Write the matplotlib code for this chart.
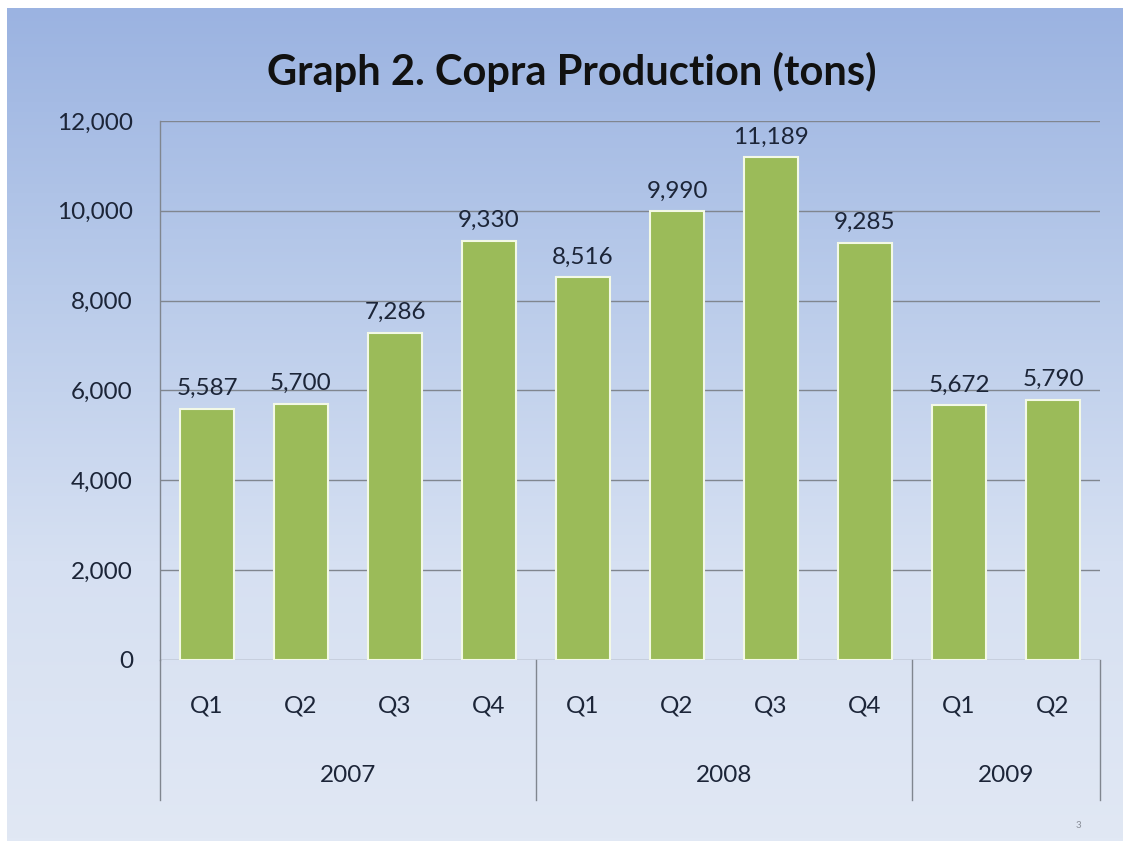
import numpy as np
import matplotlib
matplotlib.use("Agg")
import matplotlib.pyplot as plt
from matplotlib.colors import LinearSegmentedColormap
import matplotlib.transforms as mtransforms

quarters = ["Q1", "Q2", "Q3", "Q4", "Q1", "Q2", "Q3", "Q4", "Q1", "Q2"]
years = ["2007", "2008", "2009"]
quarters_per_year = [4, 4, 2]
production = [5587, 5700, 7286, 9330, 8516, 9990, 11189, 9285, 5672, 5790]
yticks = [0, 2000, 4000, 6000, 8000, 10000, 12000]

W, H = 1123, 841
fig = plt.figure(figsize=(W / 100, H / 100), dpi=100)
fig.patch.set_facecolor("white")

FONT = "Lato"
TEXT = "#1c2538"
FS = 17.5

# slide background: vertical blue gradient
bg = fig.add_axes([7 / W, 0, 1 - 7 / W, 1 - 8 / H])
bg.set_axis_off()
cmap = LinearSegmentedColormap.from_list(
    "slide", ["#9bb3e1", "#b9cbea", "#d6e0f2", "#e1e8f4"])
grad = np.linspace(0, 1, 256).reshape(-1, 1)
bg.imshow(grad, aspect="auto", cmap=cmap, extent=[0, 1, 0, 1], origin="upper")
bg.set_zorder(0)

# chart area
ax = fig.add_axes([160 / W, 1 - 660 / H, 940 / W, 539 / H])
ax.set_zorder(1)
ax.patch.set_alpha(0)

x = np.arange(len(production))
ax.bar(x, production, width=0.58, color="#9bbb59",
       edgecolor="#f3f9e6", linewidth=1.5, zorder=3)

for xi, v in zip(x, production):
    ax.annotate(f"{v:,}", (xi, v), xytext=(0, 7), textcoords="offset points",
                ha="center", va="bottom", fontsize=FS, family=FONT, color=TEXT)

ax.set_xlim(-0.5, len(production) - 0.5)
ax.set_ylim(0, 12000)
ax.set_yticks(yticks)
ax.set_yticklabels([f"{t:,}" for t in yticks], family=FONT, fontsize=FS,
                   color=TEXT)
ax.tick_params(axis="y", length=0, pad=19.5)
ax.set_xticks([])
ax.yaxis.grid(True, color="#80868f", linewidth=1.0, zorder=1)
for s in ["top", "right", "bottom"]:
    ax.spines[s].set_visible(False)
ax.spines["left"].set_color("#80868f")
ax.spines["left"].set_linewidth(1.0)
ax.spines["left"].set_bounds(0, 12000)

# multi-level category axis
trans = mtransforms.blended_transform_factory(ax.transData, ax.transAxes)
depth = -140 / 539
bounds = np.concatenate([[0], np.cumsum(quarters_per_year)]) - 0.5
for b in bounds:
    ax.plot([b, b], [0, depth], transform=trans, color="#80868f",
            linewidth=1.0, clip_on=False, zorder=2)
for xi, q in zip(x, quarters):
    ax.text(xi, -46 / 539, q, transform=trans, ha="center", va="center",
            fontsize=FS, family=FONT, color=TEXT)
for i, yr in enumerate(years):
    ax.text((bounds[i] + bounds[i + 1]) / 2, -116 / 539, yr, transform=trans,
            ha="center", va="center", fontsize=FS, family=FONT, color=TEXT)

fig.text(572 / W, 1 - 72 / H, "Graph 2. Copra Production (tons)",
         ha="center", va="center", fontsize=30, fontweight="bold",
         family=FONT, color="#111111")
fig.text(1078 / W, 1 - 826 / H, "3", ha="center", va="center",
         fontsize=7, family=FONT, color="#8a8f99")

fig.savefig("out.png", dpi=100)
